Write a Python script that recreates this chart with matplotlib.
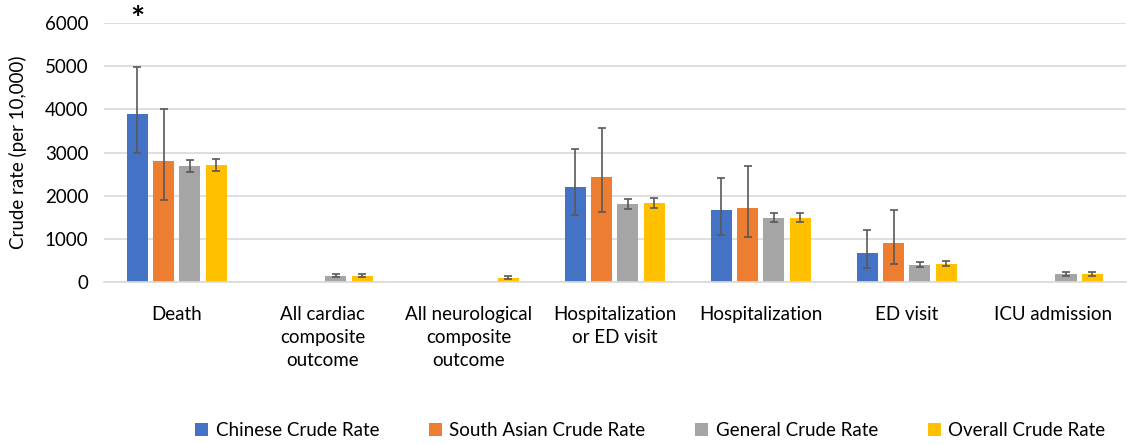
import numpy as np
import matplotlib

matplotlib.use("Agg")
import matplotlib.pyplot as plt

plt.rcParams["font.family"] = ["Lato", "DejaVu Sans"]

categories = [
    "Death",
    "All cardiac\ncomposite\noutcome",
    "All neurological\ncomposite\noutcome",
    "Hospitalization\nor ED visit",
    "Hospitalization",
    "ED visit",
    "ICU admission",
]
series_names = [
    "Chinese Crude Rate",
    "South Asian Crude Rate",
    "General Crude Rate",
    "Overall Crude Rate",
]
nan = np.nan

chinese = [3885, nan, nan, 2208, 1660, 672, nan]
chinese_lo = [2981, nan, nan, 1545, 1096, 324, nan]
chinese_hi = [4983, nan, nan, 3073, 2416, 1211, nan]

south_asian = [2810, nan, nan, 2439, 1722, 903, nan]
south_asian_lo = [1906, nan, nan, 1614, 1034, 424, nan]
south_asian_hi = [4000, nan, nan, 3574, 2694, 1668, nan]

general = [2680, 139, nan, 1800, 1483, 394, 178]
general_lo = [2541, 109, nan, 1691, 1383, 340, 132]
general_hi = [2819, 178, nan, 1930, 1591, 463, 225]

overall = [2718, 142, 93, 1830, 1490, 417, 185]
overall_lo = [2578, 104, 62, 1722, 1390, 363, 146]
overall_hi = [2857, 178, 132, 1953, 1605, 486, 232]

COLORS = ["#4472C4", "#ED7D31", "#A5A5A5", "#FFC000"]
GRID = "#d9d9d9"
ERR = "#595959"


def main():
    values = [chinese, south_asian, general, overall]
    lows = [chinese_lo, south_asian_lo, general_lo, overall_lo]
    highs = [chinese_hi, south_asian_hi, general_hi, overall_hi]

    fig = plt.figure(figsize=(11.27, 4.44), dpi=100)
    ax = fig.add_axes([0.092, 0.365, 0.907, 0.583])

    x = np.arange(len(categories))
    step = 0.18
    width = 0.144
    for i, (vals, lo, hi) in enumerate(zip(values, lows, highs)):
        v = np.array(vals, dtype=float)
        yerr = np.vstack([v - np.array(lo, dtype=float), np.array(hi, dtype=float) - v])
        pos = x + (i - 1.5) * step
        ax.bar(pos, v, width=width, color=COLORS[i], label=series_names[i], zorder=2)
        ax.errorbar(pos, v, yerr=yerr, fmt="none", ecolor=ERR, elinewidth=1.2,
                    capsize=3, capthick=1.2, zorder=3)

    # significance marker above the Chinese bar for death
    ax.text(x[0] - 1.5 * step, 5850, "*", ha="center", va="baseline", fontsize=24,
            fontweight="bold", clip_on=False)

    ax.set_xlim(-0.5, len(categories) - 0.5)
    ax.set_ylim(0, 6000)
    ax.set_yticks(range(0, 6001, 1000))
    ax.set_xticks(x)
    ax.set_xticklabels(categories, fontsize=13.5, linespacing=1.45)
    ax.tick_params(axis="both", length=0, labelsize=13.5, colors="#000000")
    ax.tick_params(axis="x", pad=17)
    ax.tick_params(axis="y", pad=11)
    ax.set_ylabel("Crude rate (per 10,000)", fontsize=13.5, labelpad=13)

    ax.grid(axis="y", color=GRID, linewidth=1.2, zorder=0)
    ax.set_axisbelow(True)
    for name, spine in ax.spines.items():
        spine.set_visible(name == "bottom")
    ax.spines["bottom"].set_color(GRID)
    ax.spines["bottom"].set_linewidth(1.2)

    handles, labels = ax.get_legend_handles_labels()
    fig.legend(handles, labels, loc="center", bbox_to_anchor=(0.577, 0.03),
               ncol=4, frameon=False, fontsize=13.5, handlelength=0.7,
               handleheight=0.7, handletextpad=0.4, columnspacing=2.65)

    fig.savefig("out.png", dpi=100)


if __name__ == "__main__":
    main()
